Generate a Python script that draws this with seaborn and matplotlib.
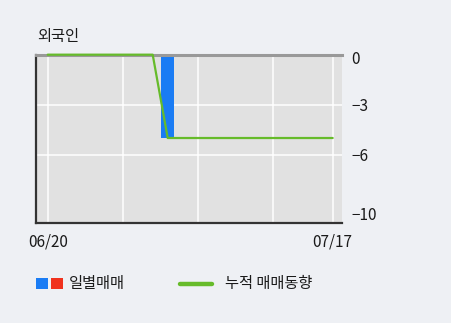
import matplotlib
matplotlib.use("Agg")
import matplotlib.pyplot as plt
import matplotlib.transforms as mtransforms
from matplotlib.patches import Rectangle
from matplotlib.lines import Line2D
import numpy as np
import pandas as pd
import seaborn as sns

# Foreign investor net trading, 20 sessions from 06/20 to 07/17
dates = ["06/20", "06/21", "06/24", "06/25", "06/26", "06/27", "06/28",
         "07/01", "07/02", "07/03", "07/04", "07/05", "07/08", "07/09",
         "07/10", "07/11", "07/12", "07/15", "07/16", "07/17"]
daily = [0, 0, 0, 0, 0, 0, 0, 0, -5, 0, 0, 0, 0, 0, 0, 0, 0, 0, 0, 0]
cumulative = [0, 0, 0, 0, 0, 0, 0, 0, -5, -5, -5, -5, -5, -5, -5, -5, -5, -5, -5, -5]
y_ticks = [0, -3, -6, -10]
title = "외국인"
legend_daily = "일별매매"
legend_cum = "누적 매매동향"

sns.set_theme(style="white")
plt.rcParams["font.family"] = ["Noto Sans CJK KR", "DejaVu Sans"]
plt.rcParams["axes.unicode_minus"] = True

BG = "#eef0f4"
PANEL = "#e1e1e1"
BLUE = "#1a7cf4"
RED = "#f0321e"
GREEN = "#66bb2a"
TXT = "#1a1a1a"

df = pd.DataFrame({"idx": np.arange(len(dates)), "date": dates,
                   "daily": daily, "cum": cumulative})

fig = plt.figure(figsize=(4.51, 3.23), dpi=100, facecolor=BG)
ax = fig.add_axes([0.0792, 0.3096, 0.6784, 0.5211])
ax.set_facecolor(PANEL)

# daily bars (blue for selling, red for buying)
bar_colors = [BLUE if v < 0 else RED for v in daily]
sns.barplot(data=df, x="idx", y="daily", hue="idx", palette=bar_colors,
            legend=False, native_scale=True, width=0.85, ax=ax,
            saturation=1, zorder=2, linewidth=0)

# cumulative net line
sns.lineplot(data=df, x="idx", y="cum", color=GREEN, linewidth=1.6,
             ax=ax, zorder=4, clip_on=False)

ax.set_xlim(-0.8, 19.6)
ax.set_ylim(-10.1, 0)

# grid
grid_x = [0, 5, 10, 15, 19]
ax.set_xticks(grid_x)
ax.set_xticklabels([dates[0], "", "", "", dates[-1]])
ax.set_yticks(y_ticks)
ax.set_yticklabels([f"{v}".replace("-", "\u2212") for v in y_ticks])
for x in grid_x:
    ax.axvline(x, color="white", linewidth=1.1, zorder=1)
for y in [-3, -6]:
    ax.axhline(y, color="white", linewidth=1.1, zorder=1)

ax.yaxis.tick_right()
ax.tick_params(axis="y", length=0, pad=7, labelsize=11, labelcolor=TXT)
ax.tick_params(axis="x", length=0, pad=7.5, labelsize=11, labelcolor=TXT)
ax.set_xlabel("")
ax.set_ylabel("")

# nudge the edge labels inward
labs = ax.get_yticklabels()
labs[0].set_transform(labs[0].get_transform() +
                      mtransforms.ScaledTranslation(0, -3 / 100, fig.dpi_scale_trans))
labs[-1].set_transform(labs[-1].get_transform() +
                       mtransforms.ScaledTranslation(0, 7.5 / 100, fig.dpi_scale_trans))

for side in ["left", "bottom"]:
    ax.spines[side].set_color("#333333")
    ax.spines[side].set_linewidth(1.6)
ax.spines["top"].set_color("#999999")
ax.spines["top"].set_linewidth(2.2)
ax.spines["right"].set_visible(False)

fig.text(37.5 / 451, 1 - 37 / 323, title, fontsize=11, color=TXT,
         va="center", ha="left")

# legend
def fx(px):
    return px / 451

def fy(py):
    return 1 - py / 323

fig.add_artist(Rectangle((fx(36), fy(289)), fx(12), 11 / 323,
                         transform=fig.transFigure, color=BLUE, lw=0))
fig.add_artist(Rectangle((fx(51), fy(289)), fx(12), 11 / 323,
                         transform=fig.transFigure, color=RED, lw=0))
fig.text(fx(69), fy(283.5), legend_daily, fontsize=11, color=TXT,
         va="center", ha="left")
fig.add_artist(Line2D([fx(180), fx(212)], [fy(283.5), fy(283.5)],
                      transform=fig.transFigure, color=GREEN, linewidth=3.2))
fig.text(fx(225), fy(283.5), legend_cum, fontsize=11, color=TXT,
         va="center", ha="left")

fig.savefig("out.png", dpi=100, facecolor=BG)
